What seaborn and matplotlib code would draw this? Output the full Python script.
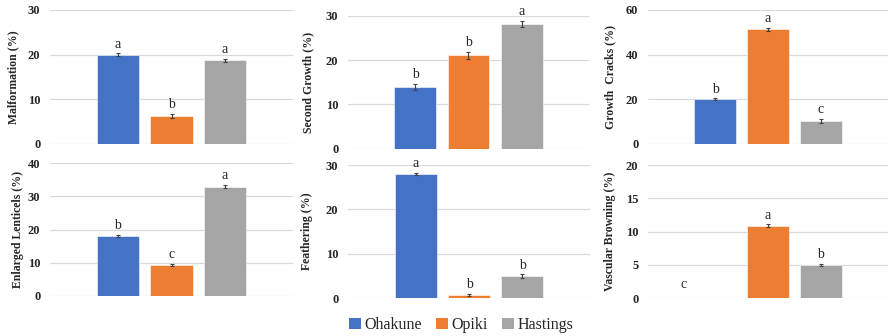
import matplotlib
matplotlib.use("Agg")
import matplotlib.pyplot as plt
from matplotlib.patches import Patch
import numpy as np
import pandas as pd
import seaborn as sns

# Growing locations and their colours
locations = ["Ohakune", "Opiki", "Hastings"]
colors = ["#4472C4", "#ED7D31", "#A5A5A5"]

# Disorder incidence (%) per location, with standard errors and significance letters
malformation = [20.0, 6.3, 18.7]
malformation_se = [0.3, 0.4, 0.3]
malformation_sig = ["a", "b", "a"]

second_growth = [14.0, 21.1, 28.1]
second_growth_se = [0.7, 0.8, 0.7]
second_growth_sig = ["b", "b", "a"]

growth_cracks = [20.0, 51.4, 10.2]
growth_cracks_se = [0.4, 0.7, 1.0]
growth_cracks_sig = ["b", "a", "c"]

enlarged_lenticels = [18.1, 9.4, 33.0]
enlarged_lenticels_se = [0.4, 0.3, 0.4]
enlarged_lenticels_sig = ["b", "c", "a"]

feathering = [28.0, 0.8, 5.0]
feathering_se = [0.3, 0.2, 0.4]
feathering_sig = ["a", "b", "b"]

vascular_browning = [0.0, 10.9, 5.0]
vascular_browning_se = [0.0, 0.2, 0.2]
vascular_browning_sig = ["c", "a", "b"]

panels = [
    ("Malformation (%)", malformation, malformation_se, malformation_sig, [0, 10, 20, 30]),
    ("Second Growth (%)", second_growth, second_growth_se, second_growth_sig, [0, 10, 20, 30]),
    ("Growth  Cracks (%)", growth_cracks, growth_cracks_se, growth_cracks_sig, [0, 20, 40, 60]),
    ("Enlarged Lenticels (%)", enlarged_lenticels, enlarged_lenticels_se, enlarged_lenticels_sig, [0, 10, 20, 30, 40]),
    ("Feathering (%)", feathering, feathering_se, feathering_sig, [0, 10, 20, 30]),
    ("Vascular Browning (%)", vascular_browning, vascular_browning_se, vascular_browning_sig, [0, 5, 10, 15, 20]),
]

sns.set_style("white")
plt.rcParams["font.family"] = ["Liberation Serif", "DejaVu Serif"]

W, H = 889, 336
fig = plt.figure(figsize=(W / 100, H / 100), dpi=100)

# Axes boxes in pixels: left, right, top, bottom
boxes = [
    (50, 293, 10, 144),
    (348, 589, 15.7, 148.7),
    (648, 888, 10, 144),
    (50, 293, 163.3, 296),
    (348, 590, 165, 298.3),
    (648, 888, 165, 298.3),
]
label_x = [-0.128, -0.141, -0.133, -0.107, -0.145, -0.133]

for (ylabel, vals, errs, sig, ticks), (l, r, t, b), lx in zip(panels, boxes, label_x):
    ax = fig.add_axes([l / W, 1 - b / H, (r - l) / W, (b - t) / H])
    df = pd.DataFrame({"Location": locations, "Value": vals})
    sns.barplot(data=df, x="Location", y="Value", hue="Location",
                palette=colors, hue_order=locations, order=locations,
                width=0.79, errorbar=None, legend=False, saturation=1,
                edgecolor="white", linewidth=0.4, ax=ax)
    xs = np.arange(len(locations))
    nz = np.array(vals) > 0
    ax.errorbar(xs[nz], np.array(vals)[nz], yerr=np.array(errs)[nz], fmt="none",
                ecolor="#404040", elinewidth=0.8, capsize=1.6, capthick=0.8, zorder=4)
    for i, (v, e, s) in enumerate(zip(vals, errs, sig)):
        if v > 0:
            ax.annotate(s, (i, v + e), xytext=(0, 2), textcoords="offset points",
                        ha="center", va="bottom", fontsize=10)
        else:
            ax.text(i - 0.6, ticks[-1] * 0.1, s, ha="center", va="center", fontsize=10)

    ax.set_xlim(-1.27, 3.27)
    ax.set_ylim(0, ticks[-1])
    ax.set_yticks(ticks)
    ax.set_xticks([])
    ax.set_xlabel("")
    ax.set_ylabel(ylabel, fontsize=8.5, fontweight="bold")
    ax.yaxis.set_label_coords(lx, 0.5)
    ax.tick_params(axis="y", length=0, pad=7, labelsize=9)
    for lab in ax.get_yticklabels():
        lab.set_fontweight("bold")
    ax.yaxis.grid(True, color="#D9D9D9", linewidth=0.9)
    ax.set_axisbelow(True)
    for sp in ax.spines.values():
        sp.set_visible(False)

handles = [Patch(facecolor=c, edgecolor="none", label=n) for c, n in zip(colors, locations)]
fig.legend(handles=handles, loc="center", bbox_to_anchor=(461 / W, 1 - 325 / H),
           ncol=3, frameon=False, fontsize=11.5, handlelength=0.75, handleheight=0.75,
           handletextpad=0.2, columnspacing=0.9, borderaxespad=0)

fig.savefig("out.png", dpi=100)
